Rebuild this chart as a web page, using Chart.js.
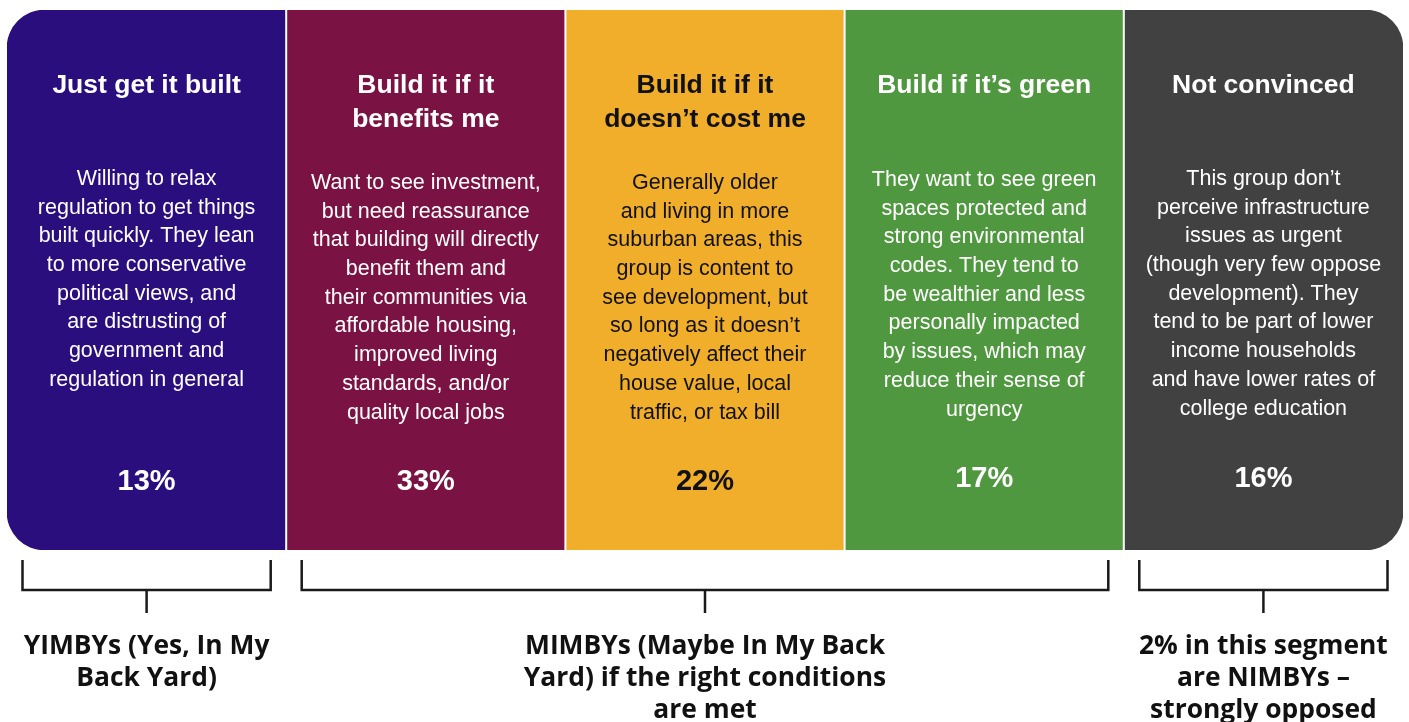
<!DOCTYPE html>
<html>
<head>
<meta charset="utf-8">
<script src="https://cdn.jsdelivr.net/npm/chart.js@4/dist/chart.umd.min.js"></script>
<style>
  html, body { margin: 0; padding: 0; background: #ffffff; }
  #wrap { width: 1409px; height: 722px; position: relative; }
</style>
</head>
<body>
<div id="wrap"><canvas id="c" width="1409" height="722"></canvas></div>
<script>
// ---- data ----
const segmentNames = ['Just get it built', 'Build it if it benefits me', 'Build it if it doesn\u2019t cost me', 'Build if it\u2019s green', 'Not convinced'];
const titleLines = [
  ['Just get it built'],
  ['Build it if it', 'benefits me'],
  ['Build it if it', 'doesn\u2019t cost me'],
  ['Build if it\u2019s green'],
  ['Not convinced']
];
const descriptionLines = [
  ['Willing to relax', 'regulation to get things', 'built quickly. They lean', 'to more conservative', 'political views, and', 'are distrusting of', 'government and', 'regulation in general'],
  ['Want to see investment,', 'but need reassurance', 'that building will directly', 'benefit them and', 'their communities via', 'affordable housing,', 'improved living', 'standards, and/or', 'quality local jobs'],
  ['Generally older', 'and living in more', 'suburban areas, this', 'group is content to', 'see development, but', 'so long as it doesn\u2019t', 'negatively affect their', 'house value, local', 'traffic, or tax bill'],
  ['They want to see green', 'spaces protected and', 'strong environmental', 'codes. They tend to', 'be wealthier and less', 'personally impacted', 'by issues, which may', 'reduce their sense of', 'urgency'],
  ['This group don\u2019t', 'perceive infrastructure', 'issues as urgent', '(though very few oppose', 'development). They', 'tend to be part of lower', 'income households', 'and have lower rates of', 'college education']
];
const sharePercent = [13, 33, 22, 17, 16];
const panelHeight = [1, 1, 1, 1, 1];
const panelColors = ['#2b0e7e', '#7a1343', '#f0ae2a', '#509840', '#414141'];
const panelTextColors = ['#ffffff', '#ffffff', '#111111', '#ffffff', '#ffffff'];

const groupFirst = [0, 1, 4];
const groupLast = [0, 3, 4];
const groupLabels = [
  ['YIMBYs (Yes, In My', 'Back Yard)'],
  ['MIMBYs (Maybe In My Back', 'Yard) if the right conditions', 'are met'],
  ['2% in this segment', 'are NIMBYs \u2013', 'strongly opposed']
];

// ---- layout (styling only) ----
const titleY = [86, 86, 86, 86, 86];
const bodyY = [179, 183, 183, 180, 179];
const bodyStep = 28.7;
const pctY = [481, 481, 481, 478, 478];

const textPlugin = {
  id: 'infographicText',
  afterDatasetsDraw(chart) {
    const ctx = chart.ctx;
    const meta = chart.getDatasetMeta(0);
    const area = chart.chartArea;
    ctx.save();
    // white dividers
    ctx.strokeStyle = '#ffffff';
    ctx.lineWidth = 2;
    for (let i = 1; i < meta.data.length; i++) {
      const b = meta.data[i];
      const x = b.x - b.width / 2;
      ctx.beginPath();
      ctx.moveTo(x, area.top - 2);
      ctx.lineTo(x, area.bottom + 2);
      ctx.stroke();
    }
    ctx.textAlign = 'center';
    ctx.textBaseline = 'middle';
    meta.data.forEach((bar, i) => {
      const cx = bar.x;
      ctx.fillStyle = panelTextColors[i];
      ctx.font = 'bold 26.5px "Liberation Sans", Arial, sans-serif';
      titleLines[i].forEach((t, j) => ctx.fillText(t, cx, titleY[i] + j * 34));
      ctx.font = '21.5px "Liberation Sans", Arial, sans-serif';
      descriptionLines[i].forEach((t, j) => ctx.fillText(t, cx, bodyY[i] + j * bodyStep));
      ctx.font = 'bold 29px "Liberation Sans", Arial, sans-serif';
      ctx.fillText(sharePercent[i] + '%', cx, pctY[i] + 1);
    });
    // brackets
    ctx.strokeStyle = '#1a1a1a';
    ctx.lineWidth = 2.5;
    ctx.fillStyle = '#111111';
    groupFirst.forEach((f, g) => {
      const a = meta.data[f], b = meta.data[groupLast[g]];
      const x0 = a.x - a.width / 2 + 15.5;
      const x1 = b.x + b.width / 2 - 15.5;
      const top = area.bottom + 10, mid = area.bottom + 40, tick = area.bottom + 63;
      ctx.beginPath();
      ctx.moveTo(x0, top); ctx.lineTo(x0, mid); ctx.lineTo(x1, mid); ctx.lineTo(x1, top);
      ctx.stroke();
      const cx = (x0 + x1) / 2;
      ctx.beginPath();
      ctx.moveTo(cx, mid); ctx.lineTo(cx, tick);
      ctx.stroke();
      ctx.font = 'bold 27.5px "Open Sans", sans-serif';
      groupLabels[g].forEach((t, j) => {
        ctx.save();
        ctx.translate(cx, area.bottom + 96 + j * 32);
        ctx.scale(0.96, 1);
        ctx.fillText(t, 0, 0);
        ctx.restore();
      });
    });
    ctx.restore();
  }
};

const R = 38;
new Chart(document.getElementById('c'), {
  type: 'bar',
  data: {
    labels: segmentNames,
    datasets: [{
      data: panelHeight,
      backgroundColor: panelColors,
      borderWidth: 0,
      borderSkipped: false,
      borderRadius: panelHeight.map((v, i) => i === 0 ? { topLeft: R, bottomLeft: R, topRight: 0, bottomRight: 0 }
        : i === panelHeight.length - 1 ? { topLeft: 0, bottomLeft: 0, topRight: R, bottomRight: R }
        : 0),
      barPercentage: 1,
      categoryPercentage: 1
    }]
  },
  options: {
    responsive: false,
    animation: false,
    layout: { padding: { left: 7, right: 6, top: 10, bottom: 172 } },
    plugins: { legend: { display: false }, tooltip: { enabled: false } },
    scales: {
      x: { display: false },
      y: { display: false, min: 0, max: 1 }
    }
  },
  plugins: [textPlugin]
});
</script>
</body>
</html>
